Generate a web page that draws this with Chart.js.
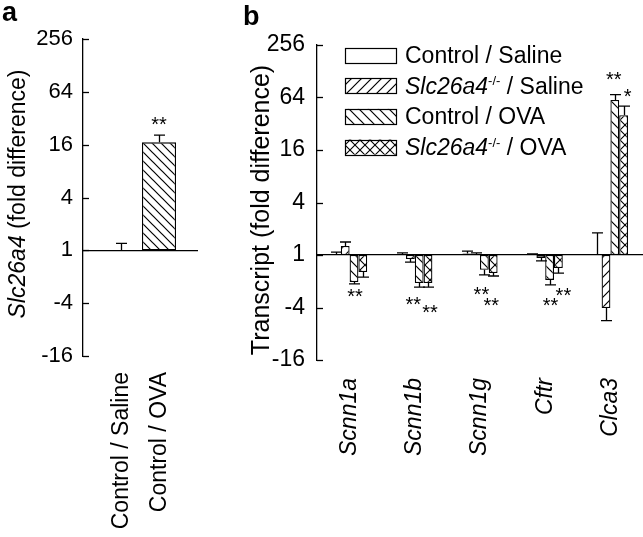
<!DOCTYPE html>
<html><head><meta charset="utf-8">
<script src="https://cdn.jsdelivr.net/npm/chart.js@4.4.0/dist/chart.umd.min.js"></script>
<style>
html,body{margin:0;padding:0;background:#fff;}
#wrap{position:relative;width:643px;height:537px;overflow:hidden;background:#fff;}
canvas{position:absolute;top:0;}
#ca{left:0;} #cb{left:230px;}
</style></head><body>
<div id="wrap"><canvas id="ca" width="230" height="537"></canvas><canvas id="cb" width="413" height="537"></canvas></div>
<script>
// ---------- Panel a data (fold difference) ----------
const catsA = ['Control / Saline', 'Control / OVA'];
const foldA = [1.0, 17.0];
const errTipA = [1.2, 20.5];

// ---------- Panel b data (fold difference) ----------
const genesB = ['Scnn1a', 'Scnn1b', 'Scnn1g', 'Cftr', 'Clca3'];
const ctrlSaline    = [1.03, 1.03, 1.04, 1.01, 1.0];
const ctrlSalineErr = [1.08, 1.06, 1.11, 1.03, 1.79];
const koSaline      = [1.27, -1.11, 1.01, -1.08, -4.06];
const koSalineErr   = [1.41, -1.21, 1.06, -1.17, -5.66];
const ctrlOva       = [-2.04, -2.10, -1.48, -1.93, 60];
const ctrlOvaErr    = [-2.14, -2.33, -1.69, -2.20, 69];
const koOva         = [-1.57, -2.10, -1.61, -1.41, 40];
const koOvaErr      = [-1.79, -2.33, -1.74, -1.61, 51];

// y tick labels (fold)
const yTickFolds = [-16, -4, 1, 4, 16, 64, 256];

// ---------- helpers ----------
const F = "'Liberation Sans', Arial, Helvetica, sans-serif";
Chart.defaults.font.family = F;
Chart.defaults.color = '#000';
const toLog = f => (f == null ? null : (f >= 1 ? Math.log2(f) : (f <= -1 ? -Math.log2(-f) : 0)));
const fmtFold = v => { const r = Math.round(v >= 0 ? Math.pow(2, v) : -Math.pow(2, -v)); return String(r); };

function makePattern(type, size, lw) {
  const c = document.createElement('canvas');
  c.width = size; c.height = size;
  const g = c.getContext('2d');
  g.fillStyle = '#fff'; g.fillRect(0, 0, size, size);
  g.strokeStyle = '#000'; g.lineWidth = lw;
  const fwd = () => { g.beginPath(); g.moveTo(-1, size + 1); g.lineTo(size + 1, -1);
    g.moveTo(-1, 1); g.lineTo(1, -1); g.moveTo(size - 1, size + 1); g.lineTo(size + 1, size - 1); g.stroke(); };
  const back = () => { g.beginPath(); g.moveTo(-1, -1); g.lineTo(size + 1, size + 1);
    g.moveTo(size - 1, -1); g.lineTo(size + 1, 1); g.moveTo(-1, size - 1); g.lineTo(1, size + 1); g.stroke(); };
  if (type === 'fwd') fwd();
  if (type === 'back') back();
  if (type === 'cross') { fwd(); back(); }
  return g.createPattern(c, 'repeat');
}

function drawRich(ctx, segs, x, y, size) {
  let cx = x;
  for (const s of segs) {
    const fs = s.sup ? Math.round(size * 0.58) : size;
    ctx.font = (s.i ? 'italic ' : '') + fs + 'px ' + F;
    ctx.fillText(s.t, cx, s.sup ? y - size * 0.36 : y);
    cx += ctx.measureText(s.t).width;
  }
  return cx - x;
}
function richWidth(ctx, segs, size) {
  let w = 0;
  for (const s of segs) {
    const fs = s.sup ? Math.round(size * 0.58) : size;
    ctx.font = (s.i ? 'italic ' : '') + fs + 'px ' + F;
    w += ctx.measureText(s.t).width;
  }
  return w;
}

const errorBarsPlugin = {
  id: 'errorBars',
  afterDatasetsDraw(chart) {
    const ctx = chart.ctx, ys = chart.scales.y;
    ctx.save(); ctx.strokeStyle = '#000'; ctx.lineWidth = 1.3;
    chart.data.datasets.forEach((ds, i) => {
      const meta = chart.getDatasetMeta(i);
      meta.data.forEach((el, j) => {
        const t = ds.errTips[j];
        if (t == null || ds.data[j] == null) return;
        const x = Math.round(el.x) + 0.5;
        const y0 = el.y, y1 = ys.getPixelForValue(t);
        ctx.beginPath();
        ctx.moveTo(x, y0); ctx.lineTo(x, y1);
        ctx.moveTo(x - 5.5, y1); ctx.lineTo(x + 5.5, y1);
        ctx.stroke();
      });
    });
    ctx.restore();
  }
};

function tickMarksPlugin(left, right) {
  return {
    id: 'tickMarks',
    afterDraw(chart) {
      const ctx = chart.ctx, ys = chart.scales.y;
      const x = chart.chartArea.left;
      ctx.save(); ctx.strokeStyle = '#000'; ctx.lineWidth = 1.3;
      ys.ticks.forEach((t, k) => {
        const y = Math.round(ys.getPixelForTick(k)) + 0.5;
        ctx.beginPath(); ctx.moveTo(x - left, y); ctx.lineTo(x + right, y); ctx.stroke();
      });
      ctx.restore();
    }
  };
}

function starsPlugin(items) {
  return {
    id: 'stars',
    afterDatasetsDraw(chart) {
      const ctx = chart.ctx, ys = chart.scales.y;
      ctx.save(); ctx.fillStyle = '#000'; ctx.font = '20px ' + F; ctx.textAlign = 'center'; ctx.textBaseline = 'alphabetic';
      items.forEach(s => {
        const idx = chart.data.labels.indexOf(s.cat);
        const el = chart.getDatasetMeta(s.ds).data[idx];
        ctx.fillText(s.text, el.x + s.dx, ys.getPixelForValue(s.y) + 11);
      });
      ctx.restore();
    }
  };
}

function decorPlugin(opts) {
  return {
    id: 'decor',
    afterDraw(chart) {
      const ctx = chart.ctx;
      ctx.save(); ctx.fillStyle = '#000'; ctx.textBaseline = 'alphabetic'; ctx.textAlign = 'left';
      ctx.font = 'bold 27px ' + F;
      ctx.fillText(opts.letter, opts.letterX, opts.letterY);
      const w = richWidth(ctx, opts.title, opts.titleSize);
      ctx.translate(opts.titleX, opts.titleY);
      ctx.rotate(-Math.PI / 2);
      drawRich(ctx, opts.title, -w / 2, opts.titleSize * 0.36, opts.titleSize);
      ctx.restore();
    }
  };
}

function legendPlugin(items) {
  return {
    id: 'richLegend',
    afterDraw(chart) {
      const ctx = chart.ctx;
      ctx.save(); ctx.textAlign = 'left'; ctx.textBaseline = 'alphabetic';
      items.forEach((it, k) => {
        const ds = chart.data.datasets[k];
        const cy = 55 + k * 30.7;
        const bx = 115.5, bw = 51, bh = 15;
        ctx.fillStyle = ds.backgroundColor;
        ctx.fillRect(bx, cy - bh / 2, bw, bh);
        ctx.strokeStyle = '#000'; ctx.lineWidth = 1.2;
        ctx.strokeRect(bx, Math.round(cy - bh / 2) + 0.5, bw, bh);
        ctx.fillStyle = '#000';
        drawRich(ctx, it, 175, cy + 8, 23);
      });
      ctx.restore();
    }
  };
}

const noPad = s => { s.paddingLeft = 0; s.paddingRight = 0; };

// ---------- Panel a ----------
const patA = makePattern('back', 9, 1.2);
const labelsA = ['', ...catsA, ''];
new Chart(document.getElementById('ca'), {
  type: 'bar',
  data: {
    labels: labelsA,
    datasets: [{
      data: [null, ...foldA.map(toLog), null],
      errTips: [null, ...errTipA.map(toLog), null],
      backgroundColor: ['#fff', '#fff', patA, '#fff'],
      borderColor: '#000', borderWidth: 1.3, borderSkipped: false,
      barPercentage: 1, categoryPercentage: 34 / 38
    }]
  },
  options: {
    responsive: false, animation: false, devicePixelRatio: 1,
    layout: { padding: { left: 0, right: 33, top: 39, bottom: 0 } },
    plugins: { legend: { display: false }, tooltip: { enabled: false } },
    scales: {
      x: {
        type: 'category', offset: false,
        grid: { display: false, drawTicks: false }, border: { display: false },
        ticks: { autoSkip: false, maxRotation: 90, minRotation: 90, padding: 16, labelOffset: 1, font: { size: 23 }, color: '#000' },
        afterFit(s) { s.height = 181; noPad(s); }
      },
      x0: {
        type: 'category', position: { y: 0 },
        grid: { display: false, drawTicks: false }, border: { display: true, color: '#000', width: 1.3 },
        ticks: { display: false },
        afterFit(s) { noPad(s); }
      },
      y: {
        min: -4, max: 8,
        afterBuildTicks(s) { s.ticks = yTickFolds.map(f => ({ value: toLog(f) })); },
        ticks: { callback: v => fmtFold(v), padding: 10, font: { size: 22 }, color: '#000' },
        grid: { display: false, drawTicks: false }, border: { display: true, color: '#000', width: 1.3 },
        afterFit(s) { s.width = 83; }
      }
    }
  },
  plugins: [errorBarsPlugin, tickMarksPlugin(0, 6),
    starsPlugin([{ cat: 'Control / OVA', ds: 0, dx: 0, y: 4.94, text: '**' }]),
    decorPlugin({ letter: 'a', letterX: 2, letterY: 21,
      title: [{ t: 'Slc26a4', i: 1 }, { t: ' (fold difference)' }], titleSize: 23, titleX: 17, titleY: 194 })]
});

// ---------- Panel b ----------
const seriesB = [
  { label: 'Control / Saline', vals: ctrlSaline, errs: ctrlSalineErr, bg: '#fff' },
  { label: 'Slc26a4-/- / Saline', vals: koSaline, errs: koSalineErr, bg: makePattern('fwd', 10, 1.2) },
  { label: 'Control / OVA', vals: ctrlOva, errs: ctrlOvaErr, bg: makePattern('back', 10, 1.2) },
  { label: 'Slc26a4-/- / OVA', vals: koOva, errs: koOvaErr, bg: makePattern('cross', 10, 1.1) }
];
const legendB = [
  [{ t: 'Control / Saline' }],
  [{ t: 'Slc26a4', i: 1 }, { t: '-/-', sup: 1 }, { t: ' / Saline' }],
  [{ t: 'Control / OVA' }],
  [{ t: 'Slc26a4', i: 1 }, { t: '-/-', sup: 1 }, { t: ' / OVA' }]
];
const starsB = [
  { cat: 'Scnn1a', ds: 2, dx: 1, y: -1.41, text: '**' },
  { cat: 'Scnn1b', ds: 2, dx: -6, y: -1.71, text: '**' },
  { cat: 'Scnn1b', ds: 3, dx: 2, y: -2.02, text: '**' },
  { cat: 'Scnn1g', ds: 2, dx: -3, y: -1.33, text: '**' },
  { cat: 'Scnn1g', ds: 3, dx: -2, y: -1.75, text: '**' },
  { cat: 'Cftr', ds: 2, dx: 1, y: -1.75, text: '**' },
  { cat: 'Cftr', ds: 3, dx: 5, y: -1.37, text: '**' },
  { cat: 'Clca3', ds: 2, dx: -1, y: 6.86, text: '**' },
  { cat: 'Clca3', ds: 3, dx: 4, y: 6.21, text: '*' }
];
new Chart(document.getElementById('cb'), {
  type: 'bar',
  data: {
    labels: genesB,
    datasets: seriesB.map(s => ({
      label: s.label,
      data: s.vals.map(toLog),
      errTips: s.errs.map(toLog),
      backgroundColor: s.bg, borderColor: '#000', borderWidth: 1.3, borderSkipped: false,
      barPercentage: 1, categoryPercentage: 0.54
    }))
  },
  options: {
    responsive: false, animation: false, devicePixelRatio: 1,
    layout: { padding: { left: 0, right: 0, top: 45, bottom: 0 } },
    plugins: { legend: { display: false }, tooltip: { enabled: false } },
    scales: {
      x: {
        type: 'category',
        grid: { display: false, drawTicks: false }, border: { display: false },
        ticks: { autoSkip: false, maxRotation: 90, minRotation: 90, padding: 18, font: { size: 23, style: 'italic' }, color: '#000' },
        afterFit(s) { s.height = 177; noPad(s); }
      },
      x0: {
        type: 'category', position: { y: 0 },
        grid: { display: false, drawTicks: false }, border: { display: true, color: '#000', width: 1.3 },
        ticks: { display: false },
        afterFit(s) { noPad(s); }
      },
      y: {
        min: -4, max: 8,
        afterBuildTicks(s) { s.ticks = yTickFolds.map(f => ({ value: toLog(f) })); },
        ticks: { callback: v => fmtFold(v), padding: 12, font: { size: 23 }, color: '#000' },
        grid: { display: false, drawTicks: false }, border: { display: true, color: '#000', width: 1.3 },
        afterFit(s) { s.width = 87; }
      }
    }
  },
  plugins: [errorBarsPlugin, tickMarksPlugin(0, 6), starsPlugin(starsB), legendPlugin(legendB),
    decorPlugin({ letter: 'b', letterX: 13, letterY: 25,
      title: [{ t: 'Transcript (fold difference)' }], titleSize: 25, titleX: 30, titleY: 210 })]
});
</script>
</body></html>
